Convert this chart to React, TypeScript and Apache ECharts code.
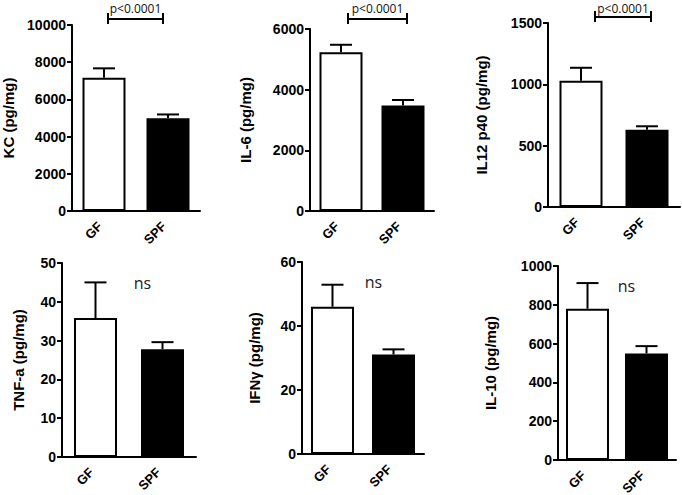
import React, { useEffect, useRef } from "react";
import * as echarts from "echarts";

const categories = ["GF", "SPF"];
const panelNames = ["KC (pg/mg)", "IL-6 (pg/mg)", "IL12 p40 (pg/mg)", "TNF-a (pg/mg)", "IFNγ (pg/mg)", "IL-10 (pg/mg)"];
const axisMax = [10000, 6000, 1500, 50, 60, 1000];
const axisInterval = [2000, 2000, 500, 10, 20, 200];
const kcMean = [7160, 4990];
const kcUpper = [7670, 5190];
const il6Mean = [5230, 3480];
const il6Upper = [5480, 3660];
const il12Mean = [1030, 630];
const il12Upper = [1135, 658];
const tnfMean = [35.8, 27.8];
const tnfUpper = [45.0, 29.6];
const ifnMean = [46.0, 31.1];
const ifnUpper = [52.9, 32.7];
const il10Mean = [780, 549];
const il10Upper = [912, 587];
const annotations = ["p<0.0001", "p<0.0001", "p<0.0001", "ns", "ns", "ns"];

const means = [kcMean, il6Mean, il12Mean, tnfMean, ifnMean, il10Mean];
const uppers = [kcUpper, il6Upper, il12Upper, tnfUpper, ifnUpper, il10Upper];

// layout (pixels)
const grids = [
  { left: 72, top: 25, width: 128, height: 186, nameGap: 56 },
  { left: 310, top: 29, width: 124, height: 182, nameGap: 57 },
  { left: 548, top: 23, width: 132, height: 184, nameGap: 59 },
  { left: 62, top: 263, width: 134, height: 194, nameGap: 36 },
  { left: 302, top: 262, width: 122, height: 192, nameGap: 40 },
  { left: 558, top: 266, width: 118, height: 194, nameGap: 60 },
];
const bracketOffsets = [
  { l: 4, r: -5, dy: -6 },
  { l: 7, r: 4, dy: -10 },
  { l: 14, r: 4, dy: -6 },
];

const FONT = "'Liberation Sans', Arial, sans-serif";

export default function App() {
  const ref = useRef<HTMLDivElement>(null);
  useEffect(() => {
    if (!ref.current) return;
    const chart = echarts.init(ref.current, undefined, { renderer: "svg" });
    const xAxis: any[] = [];
    const yAxis: any[] = [];
    const series: any[] = [];
    grids.forEach((g, i) => {
      xAxis.push({
        gridIndex: i,
        type: "category",
        data: categories,
        axisLine: { lineStyle: { color: "#000", width: 2 } },
        axisTick: { alignWithLabel: true, length: 6, lineStyle: { color: "#000", width: 2 } },
        axisLabel: { show: false },
        splitLine: { show: false },
      });
      yAxis.push({
        gridIndex: i,
        type: "value",
        min: 0,
        max: axisMax[i],
        interval: axisInterval[i],
        name: panelNames[i],
        nameLocation: "middle",
        nameGap: g.nameGap,
        nameTextStyle: { color: "#000", fontFamily: FONT, fontWeight: "bold", fontSize: 15 },
        axisLine: { show: true, lineStyle: { color: "#000", width: 2 } },
        axisTick: { show: true, length: 5, lineStyle: { color: "#000", width: 2 } },
        axisLabel: {
          margin: 6,
          color: "#000",
          fontFamily: FONT,
          fontWeight: "bold",
          fontSize: 14,
          formatter: (v: number) => String(v),
        },
        splitLine: { show: false },
      });
      series.push({
        type: "bar",
        xAxisIndex: i,
        yAxisIndex: i,
        barWidth: 43,
        data: means[i].map((v, k) => ({
          value: v,
          itemStyle: { color: k === 0 ? "#fff" : "#000", borderColor: "#000", borderWidth: 2 },
        })),
        z: 2,
      });
      series.push({
        type: "custom",
        xAxisIndex: i,
        yAxisIndex: i,
        z: 3,
        data: means[i].map((v, k) => [k, v, uppers[i][k]]),
        renderItem: (params: any, api: any) => {
          const p0 = api.coord([api.value(0), api.value(1)]);
          const p1 = api.coord([api.value(0), api.value(2)]);
          const style = { stroke: "#000", lineWidth: 2 };
          return {
            type: "group",
            children: [
              { type: "line", shape: { x1: p0[0], y1: p0[1], x2: p1[0], y2: p1[1] }, style },
              { type: "line", shape: { x1: p1[0] - 11, y1: p1[1], x2: p1[0] + 11, y2: p1[1] }, style },
            ],
          };
        },
      });
      // rotated category labels
      series.push({
        type: "custom",
        xAxisIndex: i,
        yAxisIndex: i,
        z: 4,
        clip: false,
        silent: true,
        data: categories.map((c, k) => [k, 0]),
        renderItem: (params: any, api: any) => {
          const k = api.value(0);
          const p = api.coord([k, 0]);
          return {
            type: "text",
            x: p[0] - 4,
            y: p[1] + 13,
            rotation: Math.PI / 4,
            style: {
              text: categories[k],
              fill: "#000",
              font: `bold 13px ${FONT}`,
              align: "right",
              verticalAlign: "middle",
            },
          };
        },
      });
      const label = annotations[i];
      const max = axisMax[i];
      series.push({
        type: "custom",
        xAxisIndex: i,
        yAxisIndex: i,
        z: 4,
        clip: false,
        silent: true,
        data: [[0, max]],
        renderItem: (params: any, api: any) => {
          const a = api.coord([0, max]);
          const b = api.coord([1, max]);
          if (i < 3) {
            const o = bracketOffsets[i];
            const x1 = a[0] + o.l;
            const x2 = b[0] + o.r;
            const y = a[1] + o.dy;
            const style = { stroke: "#000", lineWidth: 2 };
            return {
              type: "group",
              children: [
                { type: "line", shape: { x1, y1: y, x2, y2: y }, style },
                { type: "line", shape: { x1, y1: y - 6, x2: x1, y2: y + 5 }, style },
                { type: "line", shape: { x1: x2, y1: y - 6, x2, y2: y + 5 }, style },
                {
                  type: "text",
                  x: (x1 + x2) / 2,
                  y: Math.max(y - 12, 8),
                  style: {
                    text: label,
                    fill: "#111",
                    font: "12px 'Open Sans', sans-serif",
                    align: "center",
                    verticalAlign: "middle",
                  },
                },
              ],
            };
          }
          return {
            type: "text",
            x: b[0] - 20,
            y: a[1] + 20,
            style: {
              text: label,
              fill: "#222",
              font: "16px 'Open Sans', sans-serif",
              align: "center",
              verticalAlign: "middle",
            },
          };
        },
      });
    });
    chart.setOption({
      animation: false,
      backgroundColor: "#fff",
      grid: grids.map((g) => ({ left: g.left, top: g.top, width: g.width, height: g.height })),
      xAxis,
      yAxis,
      series,
    });
    return () => chart.dispose();
  }, []);
  return (
    <div
      ref={ref}
      style={{ position: "absolute", left: 0, top: 0, width: 682, height: 495, background: "#fff" }}
    />
  );
}
